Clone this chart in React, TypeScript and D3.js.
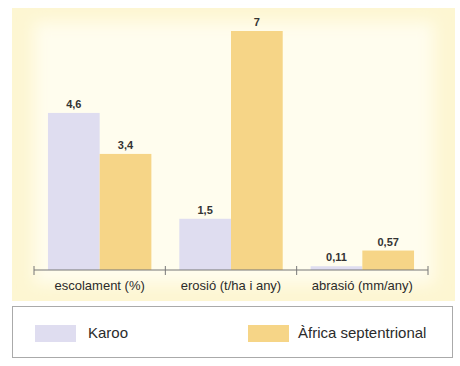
import * as d3 from "d3";

const categories = ["escolament (%)", "erosió (t/ha i any)", "abrasió (mm/any)"];
const karoo = [4.6, 1.5, 0.11];
const africa = [3.4, 7, 0.57];
const karooLabels = ["4,6", "1,5", "0,11"];
const africaLabels = ["3,4", "7", "0,57"];
const seriesNames = ["Karoo", "Àfrica septentrional"];
const seriesColors = ["#dfddf0", "#f6d587"];

const W = 460;
const H = 366;
const font = "'Liberation Sans', Arial, sans-serif";

export default function App() {
  const baseY = 270;
  const x0 = d3.scaleBand().domain(categories).range([34, 428]).paddingInner(0).paddingOuter(0);
  const x1 = d3
    .scaleBand()
    .domain(seriesNames)
    .range([0, x0.bandwidth()])
    .paddingOuter(0.27)
    .paddingInner(0);
  const y = d3.scaleLinear().domain([0, 7]).range([baseY, 31]);

  const series = [karoo, africa];
  const labels = [karooLabels, africaLabels];
  const ticks = [...categories.map((c) => x0(c)!), 428];

  return (
    <svg
      width={W}
      height={H}
      style={{ position: "absolute", left: 0, top: 0 }}
      fontFamily={font}
    >
      <defs>
        <filter id="soft" x="-10%" y="-10%" width="120%" height="120%">
          <feGaussianBlur stdDeviation="8" />
        </filter>
      </defs>
      <rect x={0} y={0} width={W} height={H} fill="#ffffff" />
      {/* panel */}
      <rect x={12} y={8} width={443} height={293} fill="#fdf6d2" />
      <rect x={34} y={22} width={400} height={262} fill="#fffdee" filter="url(#soft)" />

      {categories.map((c, ci) => (
        <g key={c} transform={`translate(${x0(c)},0)`}>
          {series.map((s, si) => {
            const bx = x1(seriesNames[si])!;
            const bw = x1.bandwidth();
            return (
              <g key={si}>
                <rect
                  x={bx}
                  y={y(s[ci])}
                  width={bw}
                  height={baseY - y(s[ci])}
                  fill={seriesColors[si]}
                />
                <text
                  x={bx + bw / 2}
                  y={y(s[ci]) - 5}
                  textAnchor="middle"
                  fontSize={11}
                  fontWeight="bold"
                  fill="#333"
                >
                  {labels[si][ci]}
                </text>
              </g>
            );
          })}
          <text
            x={x0.bandwidth() / 2}
            y={290}
            textAnchor="middle"
            fontSize={13}
            fill="#2b2b2b"
          >
            {c}
          </text>
        </g>
      ))}

      {/* axis */}
      <line x1={34} x2={428} y1={baseY} y2={baseY} stroke="#777" strokeWidth={1} />
      {ticks.map((t, i) => (
        <line key={i} x1={t} x2={t} y1={266} y2={275} stroke="#777" strokeWidth={1} />
      ))}

      {/* legend */}
      <rect x={12.5} y={306.5} width={440} height={51} fill="#fff" stroke="#aaa" strokeWidth={1} />
      <rect x={35} y={325} width={41} height={17} fill={seriesColors[0]} />
      <text x={88} y={338} fontSize={15} fill="#2b2b2b">
        {seriesNames[0]}
      </text>
      <rect x={248} y={325} width={41} height={17} fill={seriesColors[1]} />
      <text x={298} y={338} fontSize={15} fill="#2b2b2b">
        {seriesNames[1]}
      </text>
    </svg>
  );
}
